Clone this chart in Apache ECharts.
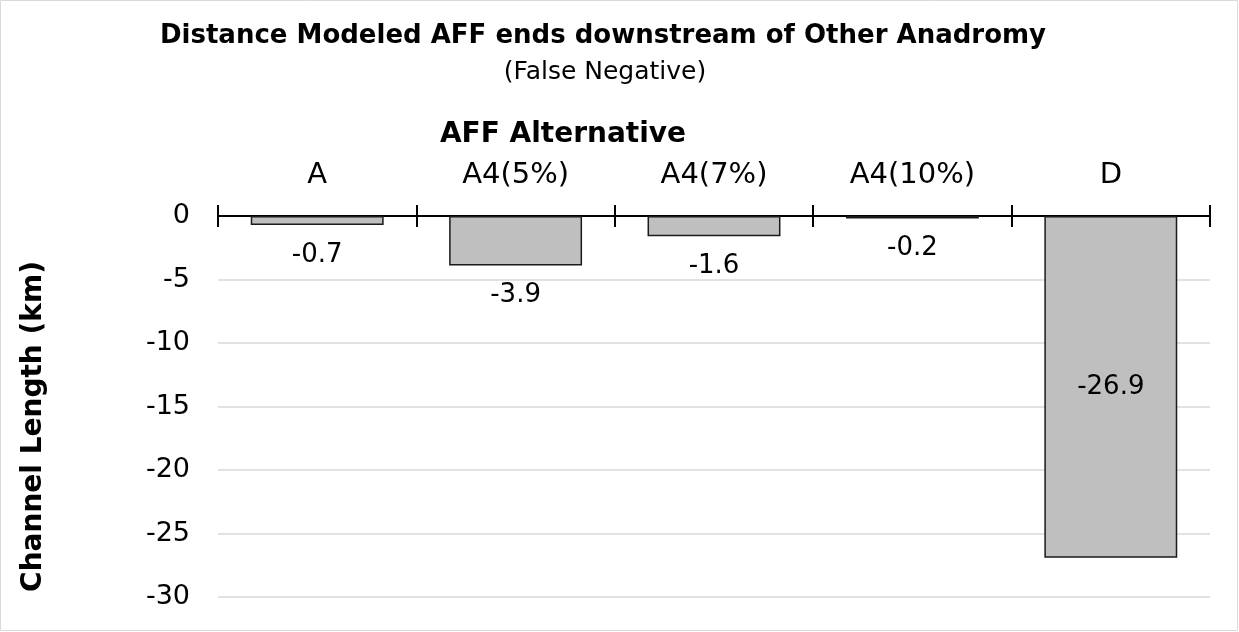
<!DOCTYPE html>
<html><head><meta charset="utf-8">
<script src="https://cdn.jsdelivr.net/npm/echarts@6/dist/echarts.min.js"></script>
<style>html,body{margin:0;padding:0;background:#fff}#c{width:1239px;height:632px}</style>
</head><body><div id="c"></div>
<script>
const categories = ['A', 'A4(5%)', 'A4(7%)', 'A4(10%)', 'D'];
const values = [-0.7, -3.9, -1.6, -0.2, -26.9];
const labelPositions = ['bottom', 'bottom', 'bottom', 'bottom', 'inside'];
const yTicks = { min: -30, max: 0, interval: 5 };

const FONT = '"DejaVu Sans", sans-serif';
const chart = echarts.init(document.getElementById('c'), null, { renderer: 'canvas' });
chart.setOption({
  backgroundColor: '#fff',
  animation: false,
  title: [{
    text: 'Distance Modeled AFF ends downstream of Other Anadromy',
    left: 598, top: 18, textAlign: 'center',
    textStyle: { fontFamily: FONT, fontWeight: 'bold', fontSize: 26, color: '#000' }
  }, {
    text: '(False Negative)',
    left: 600, top: 55, textAlign: 'center',
    textStyle: { fontFamily: FONT, fontWeight: 'normal', fontSize: 25, color: '#000' }
  }],
  graphic: [{
    type: 'rect', shape: { x: 0.5, y: 0.5, width: 1237, height: 630 },
    style: { fill: null, stroke: '#d9d9d9', lineWidth: 1 }, silent: true
  }],
  grid: { left: 218, right: 29, top: 216, bottom: 35, containLabel: false },
  xAxis: [{
    type: 'category', data: categories, position: 'top',
    name: 'AFF Alternative', nameLocation: 'middle', nameGap: 67,
    nameTextStyle: { fontFamily: FONT, fontWeight: 'bold', fontSize: 28, color: '#000', padding: [0, 302, 0, 0] },
    axisLine: { onZero: false, lineStyle: { color: '#000', width: 2 } },
    axisTick: { show: true, length: 11, lineStyle: { color: '#000', width: 2 } },
    axisLabel: { fontFamily: FONT, fontSize: 29, color: '#000', margin: 26 },
    splitLine: { show: false }
  }, {
    type: 'category', data: categories, position: 'top',
    axisLine: { show: false },
    axisTick: { show: true, inside: true, length: 11, lineStyle: { color: '#000', width: 2 } },
    axisLabel: { show: false },
    splitLine: { show: false }
  }],
  yAxis: {
    type: 'value', min: yTicks.min, max: yTicks.max, interval: yTicks.interval,
    name: 'Channel Length (km)', nameLocation: 'middle', nameGap: 170, nameRotate: 90,
    nameTextStyle: { fontFamily: FONT, fontWeight: 'bold', fontSize: 28, color: '#000', padding: [0, 40, 0, 0] },
    axisLine: { show: false }, axisTick: { show: false },
    axisLabel: { fontFamily: FONT, fontSize: 27, color: '#000', margin: 28 },
    splitLine: { lineStyle: { color: '#d9d9d9', width: 1.5 } }
  },
  series: [{
    type: 'bar', xAxisIndex: 0,
    data: values.map((v, i) => ({
      value: v,
      label: { position: labelPositions[i], distance: 17 }
    })),
    barWidth: '67%',
    itemStyle: { color: '#bfbfbf', borderColor: '#1a1a1a', borderWidth: 1.5 },
    label: {
      show: true, fontFamily: FONT, fontSize: 26, color: '#000',
      formatter: p => p.value.toFixed(1)
    }
  }]
});
</script></body></html>
